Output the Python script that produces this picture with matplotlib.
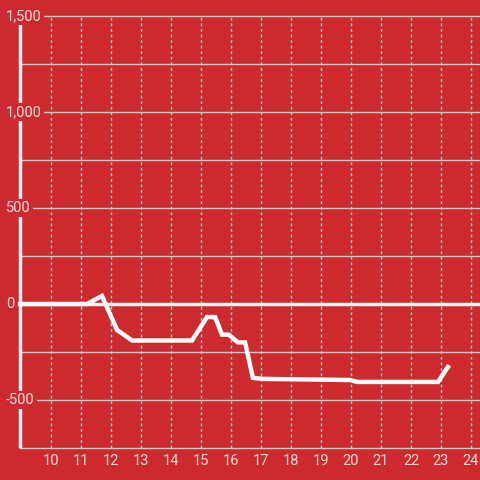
import matplotlib
matplotlib.use("Agg")
import matplotlib.pyplot as plt

# data
hours = [8.97, 11.2, 11.7, 12.2, 12.7, 14.7, 15.2, 15.47, 15.7, 15.93, 16.23,
         16.47, 16.73, 17.07, 19.97, 20.2, 22.9, 23.23]
values = [0, 0, 42, -135, -190, -190, -68, -68, -160, -160, -200,
          -200, -385, -390, -396, -406, -406, -328]

x_ticks = list(range(10, 25))
y_ticks = [1500, 1000, 500, 0, -500]
y_grid = [1500, 1250, 1000, 750, 500, 250, -250, -500, -750]

bg = "#cc2a2f"
txt = "#f5dcdc"
grid = "#c9c9c9"

fig = plt.figure(figsize=(4.8, 4.8), dpi=100, facecolor=bg)
ax = fig.add_axes([0, 0, 1, 1])
ax.set_facecolor(bg)
ax.set_xlim(8.3, 24.3)
ax.set_ylim(-916.7, 1583.3)
ax.axis("off")

x_left = 8.967
ax.hlines(y_grid, x_left, 24.3, color=grid, lw=1, zorder=1)
ax.vlines(x_ticks, -750, 1500, color=grid, lw=1, linestyles=(0, (2, 2)), zorder=1)
ax.hlines(0, x_left, 24.3, color="#f2f2f2", lw=2.5, zorder=2)
ax.vlines(x_left, -750, 1458, color="#f2f2f2", lw=2.5, zorder=2)

ax.plot(hours, values, color="white", lw=3.2, zorder=3, solid_joinstyle="miter")

for v in y_ticks:
    ax.text(8.5, v, f"{v:,}", color=txt, fontsize=10.5, family="Roboto",
            ha="left", va="center", zorder=4,
            bbox=dict(facecolor=bg, edgecolor="none", pad=1.5))
for x in x_ticks:
    ax.text(x, -818, str(x), color=txt, fontsize=10.5, family="Roboto",
            ha="center", va="center", zorder=4)

fig.savefig("out.png", dpi=100, facecolor=bg)
